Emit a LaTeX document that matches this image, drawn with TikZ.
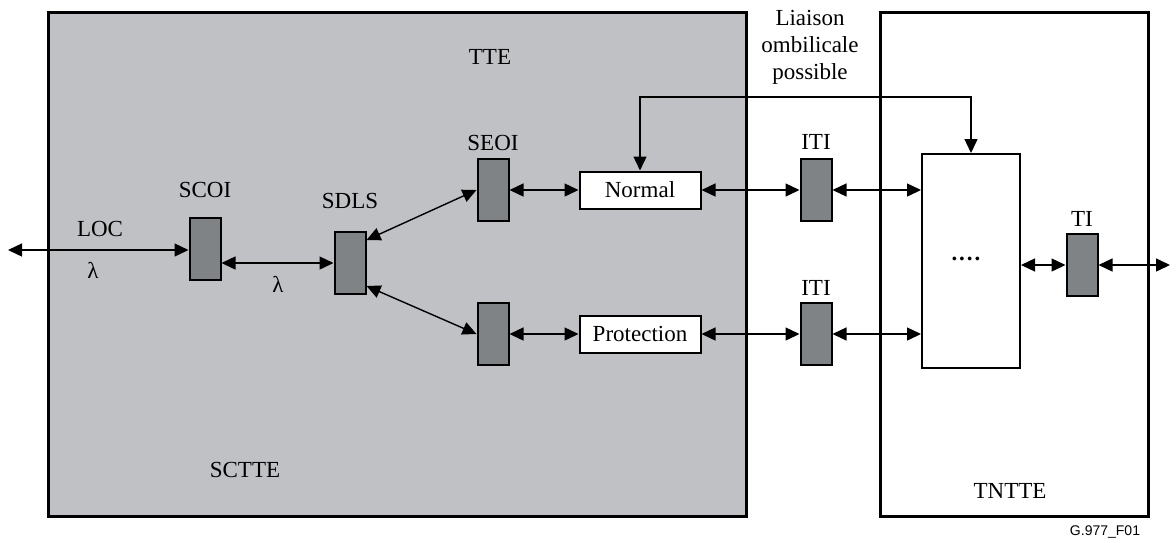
\documentclass[tikz,border=0pt]{standalone}
\usepackage{fontspec}
\setmainfont{Liberation Serif}
\newfontfamily\figsans{Liberation Sans}
\usetikzlibrary{arrows.meta,calc}
\definecolor{panelgray}{RGB}{192,193,197}
\definecolor{portgray}{RGB}{127,131,134}
\begin{document}
\begin{tikzpicture}[x=0.5pt,y=-0.5pt,
  every node/.style={font=\fontsize{11.5}{13}\selectfont},
  panel/.style={draw=black,line width=1.5pt},
  port/.style={draw=black,line width=1pt,fill=portgray,minimum width=15.5pt,minimum height=31pt,inner sep=0pt},
  func/.style={draw=black,line width=1pt,fill=white,minimum width=60.5pt,minimum height=18.5pt,inner sep=0pt},
  lbl/.style={inner sep=0pt},
  conn/.style={line width=0.7pt,{Triangle[length=7pt,width=6.5pt]}-{Triangle[length=7pt,width=6.5pt]}}]
\useasboundingbox (0,0) rectangle (1176,542);
% panels
\draw[panel,fill=panelgray] (48,12) rectangle (746,516);
\draw[panel,fill=white] (880,12) rectangle (1148,516);
\node[lbl] (tte) at (490,57) {TTE};
\node[lbl] (sctte) at (245,470) {SCTTE};
\node[lbl] (tntte) at (1010,491) {TNTTE};
\node[lbl,align=center,font=\fontsize{11.5}{13.5}\selectfont] (liaison) at (810,47) {Liaison\\ombilicale\\possible};
\node[lbl,font=\figsans\fontsize{7}{8}\selectfont] (ref) at (1105,532) {G.977\_F01};
% ports
\node[port] (scoi) at (205,249) {};
\node[lbl] at (205,190) {SCOI};
\node[port] (sdls) at (350,263) {};
\node[lbl] at (350,201) {SDLS};
\node[port] (seoi) at (493,190) {};
\node[lbl] at (493,143) {SEOI};
\node[port] (seoib) at (493,334) {};
\node[func] (normal) at (640,190) {Normal};
\node[func] (prot) at (640,334) {Protection};
\node[port] (itia) at (816,190) {};
\node[lbl] at (816,142) {ITI};
\node[port] (itib) at (816,334) {};
\node[lbl] at (816,288) {ITI};
\node[draw=black,line width=1pt,fill=white,minimum width=49pt,minimum height=107pt,inner sep=0pt] (core) at (971,261) {};
\node[lbl,font=\bfseries\fontsize{11.5}{13}\selectfont] at (966,259) {.\kern1pt.\kern1pt.\kern1pt.};
\node[port] (ti) at (1082,265) {};
\node[lbl] at (1082,219) {TI};
% free ends
\coordinate (locend) at (8,250);
\coordinate (tiend) at (1170,265);
% labels
\node[lbl] at (100,229) {LOC};
\node[lbl] at (93,270) {λ};
\node[lbl] at (278,284) {λ};
% connectors
\draw[conn] (locend) -- (scoi.west |- locend);
\draw[conn] (scoi.east |- sdls) -- (sdls.west);
\draw[conn] ([yshift=11.5pt]sdls.east) -- (seoi.west);
\draw[conn] ([yshift=-11.5pt]sdls.east) -- (seoib.west);
\draw[conn] (seoi.east) -- (normal.west);
\draw[conn] (seoib.east) -- (prot.west);
\draw[conn] (normal.east) -- (itia.west);
\draw[conn] (prot.east) -- (itib.west);
\draw[conn] (itia.east) -- (core.west |- itia);
\draw[conn] (itib.east) -- (core.west |- itib);
\draw[conn] (core.east |- ti) -- (ti.west);
\draw[conn] (ti.east) -- (tiend);
\draw[conn] (normal.north) -- (normal.north |- 0,97) -- (core.north |- 0,97) -- (core.north);
\end{tikzpicture}
\end{document}
